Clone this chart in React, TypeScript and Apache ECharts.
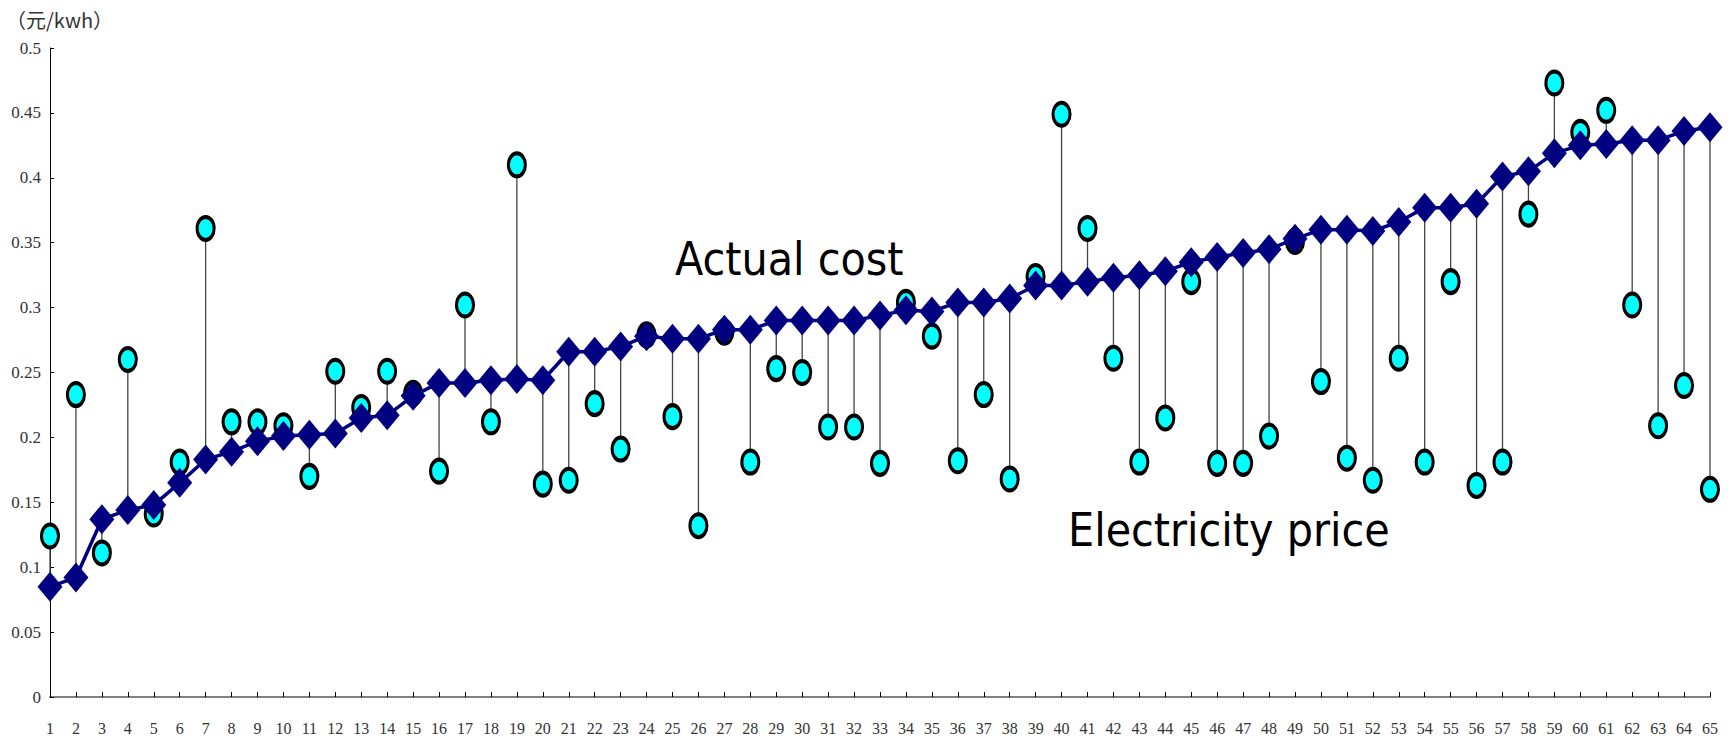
import React, { useEffect, useRef } from "react";
import * as echarts from "echarts";

const categories: string[] = Array.from({ length: 65 }, (_, i) => String(i + 1));

const electricityPrice: number[] = [
  0.085, 0.092, 0.137, 0.144, 0.148, 0.165, 0.183, 0.189, 0.197, 0.201,
  0.202, 0.203, 0.215, 0.217, 0.232, 0.242, 0.242, 0.244, 0.245, 0.244,
  0.266, 0.266, 0.270, 0.278, 0.276, 0.276, 0.283, 0.283, 0.290, 0.290,
  0.290, 0.290, 0.294, 0.298, 0.297, 0.304, 0.304, 0.307, 0.317, 0.317,
  0.320, 0.323, 0.325, 0.328, 0.335, 0.339, 0.342, 0.345, 0.353, 0.360,
  0.360, 0.359, 0.366, 0.377, 0.377, 0.380, 0.401, 0.405, 0.419, 0.425,
  0.426, 0.429, 0.429, 0.436, 0.439,
];

const actualCost: number[] = [
  0.124, 0.233, 0.111, 0.260, 0.141, 0.181, 0.361, 0.212, 0.212, 0.209,
  0.170, 0.251, 0.223, 0.251, 0.234, 0.174, 0.302, 0.212, 0.410, 0.164,
  0.167, 0.226, 0.191, 0.279, 0.216, 0.132, 0.281, 0.181, 0.253, 0.250,
  0.208, 0.208, 0.180, 0.304, 0.278, 0.182, 0.233, 0.168, 0.324, 0.449,
  0.361, 0.261, 0.181, 0.215, 0.320, 0.180, 0.180, 0.201, 0.351, 0.243,
  0.184, 0.167, 0.261, 0.181, 0.320, 0.163, 0.181, 0.372, 0.473, 0.435,
  0.452, 0.302, 0.209, 0.240, 0.160,
];

const yTicks = { min: 0, max: 0.5, interval: 0.05 };
const unitLabel = "（元/kwh）";
const labelA = "Actual cost";
const labelB = "Electricity price";

const serifFont = "'Liberation Serif', 'DejaVu Serif', serif";
const sansFont = "'DejaVu Sans Condensed', 'DejaVu Sans', Verdana, sans-serif";

export default function App() {
  const ref = useRef<HTMLDivElement>(null);

  useEffect(() => {
    if (!ref.current) return;
    const chart = echarts.init(ref.current, undefined, { renderer: "svg" });
    const connectorData = categories.map((_, i) => [i, electricityPrice[i], actualCost[i]]);
    const ellipse = "path://M0,-1A1,1 0 1,1 0,1A1,1 0 1,1 0,-1Z";

    chart.setOption({
      animation: false,
      backgroundColor: "#ffffff",
      grid: { left: 50, right: 20, top: 48, bottom: 44, containLabel: false },
      xAxis: {
        type: "category",
        data: categories,
        boundaryGap: false,
        axisLine: { lineStyle: { color: "#808080", width: 2 } },
        axisTick: { show: true, inside: true, length: 5, alignWithLabel: true, interval: 0, lineStyle: { color: "#000", width: 1 } },
        axisLabel: { interval: 0, margin: 23, fontSize: 16, color: "#333", fontFamily: serifFont },
        splitLine: { show: false },
      },
      yAxis: {
        type: "value",
        min: yTicks.min,
        max: yTicks.max,
        interval: yTicks.interval,
        axisLine: { show: true, lineStyle: { color: "#000", width: 1 } },
        axisTick: { show: true, inside: true, length: 4, lineStyle: { color: "#000" } },
        axisLabel: { fontSize: 17, color: "#333", margin: 9, fontFamily: serifFont },
        splitLine: { show: false },
      },
      graphic: [
        {
          type: "text",
          left: 6,
          top: 9,
          style: { text: unitLabel, fontSize: 20, fill: "#333", fontFamily: "'Noto Sans CJK SC', " + serifFont },
        },
        {
          type: "text",
          x: 675,
          y: 259,
          style: { text: labelA, fontSize: 46, fill: "#000", fontFamily: sansFont, textVerticalAlign: "middle" },
          z: 10,
        },
        {
          type: "text",
          x: 1068,
          y: 530,
          style: { text: labelB, fontSize: 46, fill: "#000", fontFamily: sansFont, textVerticalAlign: "middle" },
          z: 10,
        },
      ],
      series: [
        {
          type: "custom",
          name: "connector",
          z: 1,
          data: connectorData,
          encode: { x: 0, y: [1, 2] },
          renderItem: (_params: any, api: any) => {
            const a = api.coord([api.value(0), api.value(1)]);
            const b = api.coord([api.value(0), api.value(2)]);
            return {
              type: "line",
              shape: { x1: a[0], y1: a[1], x2: b[0], y2: b[1] },
              style: { stroke: "#444", lineWidth: 1.3 },
            };
          },
        },
        {
          type: "scatter",
          name: labelA,
          z: 2,
          data: actualCost,
          symbol: ellipse,
          symbolSize: [17, 23],
          itemStyle: { color: "#00ffff", borderColor: "#000", borderWidth: 3.5, opacity: 1 },
        },
        {
          type: "line",
          name: labelB,
          z: 3,
          data: electricityPrice,
          symbol: "diamond",
          symbolSize: [25, 30],
          showAllSymbol: true,
          lineStyle: { color: "#000080", width: 3.5 },
          itemStyle: { color: "#000080" },
        },
      ],
    });
    return () => chart.dispose();
  }, []);

  return (
    <div
      ref={ref}
      style={{ position: "fixed", left: 0, top: 0, width: 1730, height: 741, background: "#fff" }}
    />
  );
}
